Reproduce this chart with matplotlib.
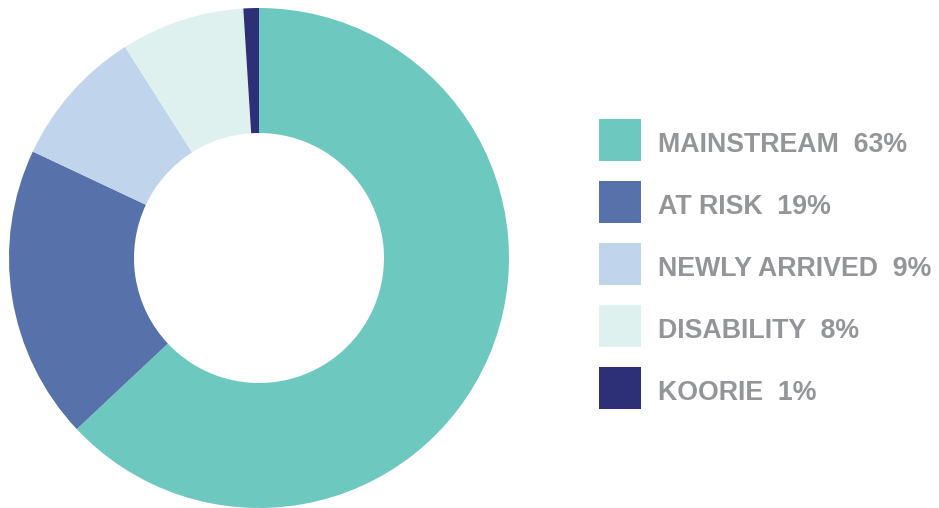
import matplotlib.pyplot as plt
from matplotlib.patches import Rectangle

plt.rcParams['font.family'] = ['Liberation Sans', 'DejaVu Sans']

labels = ['MAINSTREAM', 'AT RISK', 'NEWLY ARRIVED', 'DISABILITY', 'KOORIE']
shares = [63, 19, 9, 8, 1]
colors = ['#6dc8bf', '#5772aa', '#c0d4ec', '#dff1ef', '#2d3077']
text_color = '#939598'

W, H = 939, 508
fig = plt.figure(figsize=(W / 100, H / 100), dpi=100)

# donut, clockwise from twelve o'clock
ax = fig.add_axes([9 / W, 0 / H, 500 / W, 500 / H])
ax.pie(shares, colors=colors, startangle=90, counterclock=False,
       radius=1.0, wedgeprops=dict(width=0.5, linewidth=0))
ax.set_xlim(-1, 1)
ax.set_ylim(-1, 1)
ax.set_aspect('equal')
ax.axis('off')

# legend drawn in pixel coordinates
lg = fig.add_axes([0, 0, 1, 1])
lg.set_xlim(0, W)
lg.set_ylim(H, 0)
lg.axis('off')
for i, (name, val, c) in enumerate(zip(labels, shares, colors)):
    top = 119 + 62 * i
    lg.add_patch(Rectangle((599, top), 42, 42, facecolor=c, edgecolor='none'))
    lg.text(658, top + 33, f'{name}  {val}%', fontsize=19.3, fontweight='bold',
            color=text_color, va='baseline', ha='left')

fig.savefig('out.png', dpi=100)
